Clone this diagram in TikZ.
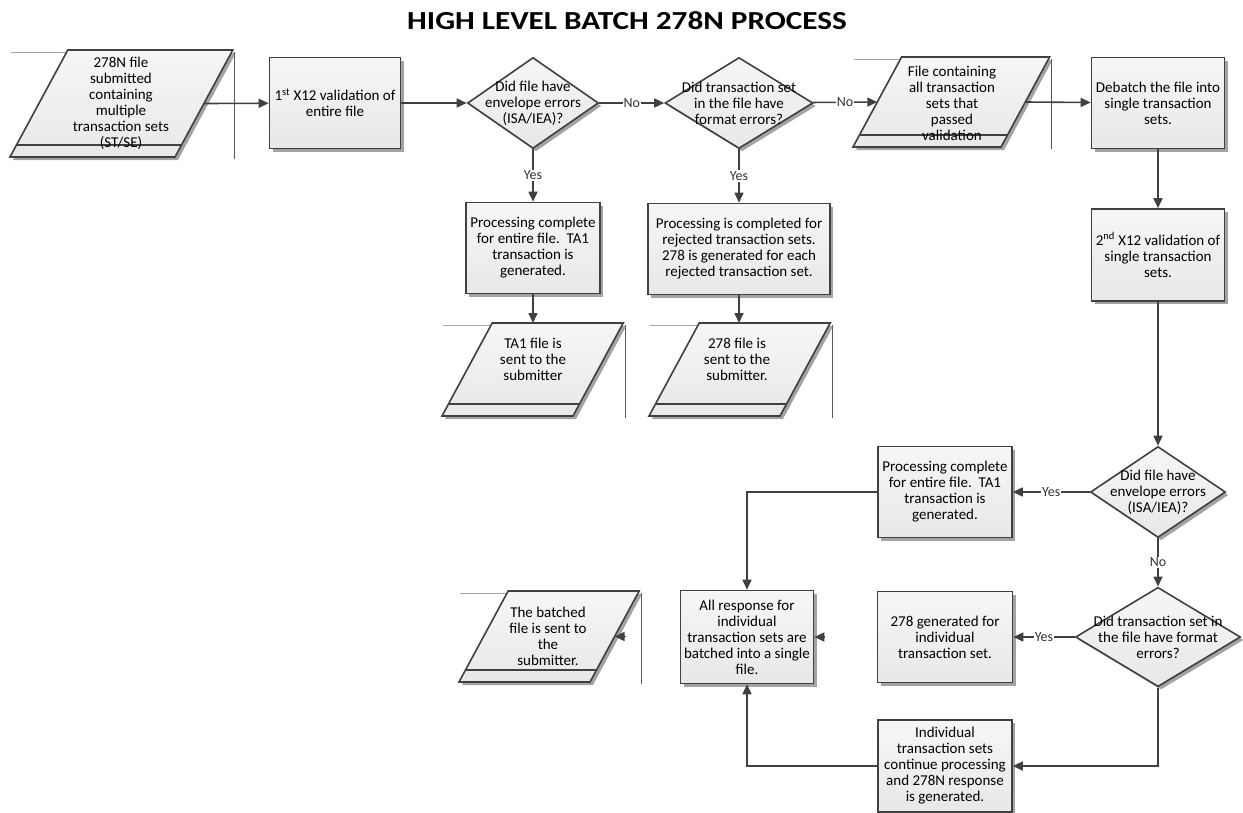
\documentclass[tikz,border=0pt]{standalone}
\usepackage{fontspec}
\usepackage{graphicx}
\setmainfont{Carlito}
\usetikzlibrary{shapes.geometric,arrows.meta,shadows,calc}

\definecolor{edgegray}{RGB}{64,64,64}
\definecolor{boxtop}{RGB}{246,246,246}
\definecolor{boxfill}{RGB}{232,232,232}

% data (parallelogram) shape: name, left x, top y, top width, height
\newcommand{\datashape}[5]{%
  \pgfmathsetmacro{\dsl}{0.54*#5}
  \pgfmathsetmacro{\dband}{12/#5}
  \coordinate (#1-bl) at (#2,#3+#5);
  \coordinate (#1-tl) at (#2+\dsl,#3);
  \coordinate (#1-tr) at (#2+\dsl+#4,#3);
  \coordinate (#1-br) at (#2+#4,#3+#5);
  \coordinate (#1-w) at ($(#1-bl)!0.5!(#1-tl)$);
  \coordinate (#1-e) at ($(#1-br)!0.5!(#1-tr)$);
  \draw[black!35, line width=0.8pt] (#2+1,#3+2) -- ($(#1-tl)+(0,2)$);
  \draw[black!65, line width=0.9pt] ($(#1-tr)+(2,2)$) -- ++(0,#5);
  \draw[datafill] (#1-bl) -- (#1-tl) -- (#1-tr) -- (#1-br) -- cycle;
  \draw[edgegray, line width=2pt] ($(#1-bl)!\dband!(#1-tl)$) -- ($(#1-br)!\dband!(#1-tr)$);
}

\begin{document}
\begin{tikzpicture}[x=1pt,y=-1pt,
    font=\fontsize{15}{16}\selectfont,
    datafill/.style={draw=edgegray, line width=1.6pt, top color=boxtop, bottom color=boxfill,
      drop shadow={shadow xshift=3pt,shadow yshift=-3pt,fill=black!60,opacity=0.6}},
    process/.style={datafill, rectangle, minimum width=134pt, minimum height=91pt,
      inner sep=2pt, align=center},
    decision/.style={datafill, diamond, minimum width=131pt, minimum height=91pt,
      inner sep=-18pt, align=center},
    datatext/.style={align=center, inner sep=0pt},
    arr/.style={draw=edgegray, line width=1.6pt, -{Triangle[length=10pt,width=9pt]}},
    lbl/.style={fill=white, inner sep=1pt, font=\fontsize{14}{16}\selectfont, text=black!80}]
  \useasboundingbox (0,0) rectangle (1243,812);

  \node[font=\fontsize{26}{30}\bfseries] (title) at (627,21) {\scalebox{1.2}[1]{HIGH LEVEL BATCH 278N PROCESS}};

  % top row
  \datashape{P1}{10}{50}{165}{107}
  \node[datatext] (in) at (121,103) {278N file\\submitted\\containing\\multiple\\transaction sets\\(ST/SE)};
  \node[process, minimum width=131pt] (val1) at (335,103) {1\textsuperscript{st} X12 validation of\\entire file};
  \node[decision] (env1) at (533,103) {Did file have\\envelope errors\\(ISA/IEA)?};
  \node[decision, minimum width=148pt] (fmt1) at (739,103) {Did transaction set\\in the file have\\format errors?};
  \datashape{P2}{853}{57}{148}{90}
  \node[datatext] (passed) at (952,103) {File containing\\all transaction\\sets that\\passed\\validation};
  \node[process, minimum width=133pt] (debatch) at (1158,103) {Debatch the file into\\single transaction\\sets.};

  % rejected branches
  \node[process] (ta1a) at (533,248) {Processing complete\\for entire file.\ \ TA1\\transaction is\\generated.};
  \node[process, minimum width=182pt] (rej) at (739,249) {Processing is completed for\\rejected transaction sets.\\278 is generated for each\\rejected transaction set.};
  \datashape{P3}{442}{323}{131}{93}
  \node[datatext] (sent1) at (533,359) {TA1 file is\\sent to the\\submitter};
  \datashape{P4}{649}{323}{131}{93}
  \node[datatext] (sent2) at (737,359) {278 file is\\sent to the\\submitter.};

  % right column
  \node[process, minimum width=133pt, minimum height=92pt] (val2) at (1158,255) {2\textsuperscript{nd} X12 validation of\\single transaction\\sets.};
  \node[decision, minimum width=135pt] (env2) at (1158,492) {Did file have\\envelope errors\\(ISA/IEA)?};
  \node[decision, minimum width=165pt] (fmt2) at (1158,637) {Did transaction set in\\the file have format\\errors?};
  \node[process] (ta1b) at (945,492) {Processing complete\\for entire file.\ \ TA1\\transaction is\\generated.};
  \node[process, minimum width=135pt] (gen) at (945,637) {278 generated for\\individual\\transaction set.};
  \node[process, minimum height=92pt] (cont) at (945,766) {Individual\\transaction sets\\continue processing\\and 278N response\\is generated.};
  \node[process, minimum width=133pt, minimum height=93pt] (batch) at (747,637) {All response for\\individual\\transaction sets are\\batched into a single\\file.};
  \datashape{P5}{459}{591}{131}{91}
  \node[datatext] (sent3) at (548,636) {The batched\\file is sent to\\the\\submitter.};

  % connectors
  \draw[arr] (P1-e) -- (val1);
  \draw[arr] (val1) -- (env1);
  \draw[arr] (env1) -- node[lbl]{No} (fmt1);
  \draw[arr] (fmt1) -- node[lbl]{No} (P2-w);
  \draw[arr] (P2-e) -- (debatch);
  \draw[arr] (debatch) -- (val2);
  \draw[arr] (val2) -- (env2);
  \draw[arr] (env1) -- node[lbl]{Yes} (ta1a);
  \draw[arr] (fmt1) -- node[lbl]{Yes} (rej);
  \draw[arr] (ta1a) -- (ta1a.south |- P3-tl);
  \draw[arr] (rej) -- (rej.south |- P4-tl);
  \draw[arr] (env2) -- node[lbl]{Yes} (ta1b);
  \draw[arr] (env2) -- node[lbl]{No} (fmt2);
  \draw[arr] (fmt2) -- node[lbl]{Yes} (gen);
  \draw[arr] (fmt2.south) |- (cont.east);
  \draw[arr] (ta1b.west) -| (batch.north);
  \draw[arr] (cont.west) -| (batch.south);
  \coordinate (stub1) at ($(batch.east)+(11,0)$);
  \coordinate (stub2) at ($(P5-e)+(11,0)$);
  \draw[arr] (stub1) -- (batch.east);
  \draw[arr] (stub2) -- (P5-e);
\end{tikzpicture}
\end{document}
